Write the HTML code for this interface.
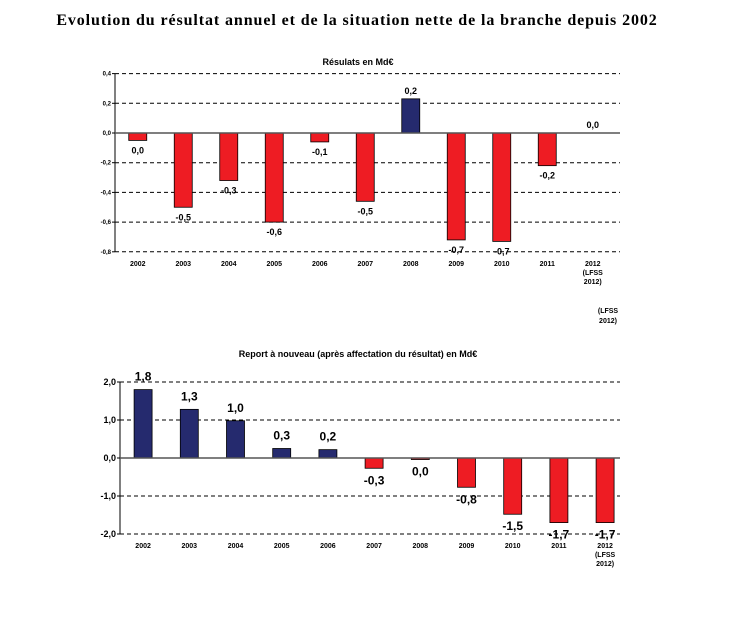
<!DOCTYPE html>
<html><head><meta charset="utf-8">
<style>
body{margin:0;background:#fff;width:741px;height:612px;overflow:hidden}
svg text{font-family:"Liberation Sans",sans-serif}
</style></head>
<body>
<svg id="s" width="741" height="612" xmlns="http://www.w3.org/2000/svg">
<text x="357" y="25" text-anchor="middle" font-weight="bold" font-size="16" letter-spacing="0.9" style="font-family:'Liberation Serif',serif">Evolution du résultat annuel et de la situation nette de la branche depuis 2002</text>
<text x="358" y="65" text-anchor="middle" font-weight="bold" font-size="9">Résulats en Md€</text>
<text x="358" y="357" text-anchor="middle" font-weight="bold" font-size="9">Report à nouveau (après affectation du résultat) en Md€</text>
<text font-weight="bold" font-size="7" text-anchor="middle"><tspan x="608" y="313">(LFSS</tspan><tspan x="608" y="323">2012)</tspan></text>
<g id="c1"></g><g id="c2"></g>
</svg>
<script>
const years=["2002","2003","2004","2005","2006","2007","2008","2009","2010","2011","2012"];
const res=[-0.05,-0.50,-0.32,-0.60,-0.06,-0.46,0.23,-0.72,-0.73,-0.22,0];
const resLabels=["0,0","-0,5","-0,3","-0,6","-0,1","-0,5","0,2","-0,7","-0,7","-0,2","0,0"];
const ticks1=[0.4,0.2,0,-0.2,-0.4,-0.6,-0.8];
const ticks1Labels=["0,4","0,2","0,0","-0,2","-0,4","-0,6","-0,8"];
const ran=[1.8,1.28,0.98,0.25,0.22,-0.27,-0.04,-0.77,-1.48,-1.7,-1.7];
const ranLabels=["1,8","1,3","1,0","0,3","0,2","-0,3","0,0","-0,8","-1,5","-1,7","-1,7"];
const ticks2=[2,1,0,-1,-2];
const ticks2Labels=["2,0","1,0","0,0","-1,0","-2,0"];
const NS="http://www.w3.org/2000/svg";
function mk(p,t,a){const e=document.createElementNS(NS,t);for(const k in a)e.setAttribute(k,a[k]);p.appendChild(e);return e;}
function draw(g,o,vals,labs,ticks,tlabs,pfx){
  const y=v=>o.y0-v*o.k;
  const x=i=>o.x0+o.cw*(i+0.5);
  ticks.forEach((t,i)=>{
    if(t!==0){const l=mk(g,'line',{x1:o.x0,x2:o.x1,y1:y(t),y2:y(t),stroke:'#000','stroke-width':1,'stroke-dasharray':'4,3'});
    }
    const tx=mk(g,'text',{x:o.x0-4,y:y(t)+o.tf/3,'text-anchor':'end','font-size':o.tf,'font-weight':'bold'});tx.textContent=tlabs[i];
    
    mk(g,'line',{x1:o.x0-3,x2:o.x0,y1:y(t),y2:y(t),stroke:'#000'});
  });
  vals.forEach((v,i)=>{
    const b=mk(g,'rect',{x:x(i)-o.bw/2,y:Math.min(y(v),y(0)),width:o.bw,height:Math.abs(y(v)-y(0)),fill:v>=0?'#252a6e':'#ee1c23',stroke:'#000','stroke-width':0.8});
    
    const ly=v>=0?y(v)-o.gap:y(v)+o.lf+4;
    const l=mk(g,'text',{x:x(i),y:ly,'text-anchor':'middle','font-size':o.lf,'font-weight':'bold'});l.textContent=labs[i];
    
    const xl=mk(g,'text',{x:x(i),y:o.xly,'text-anchor':'middle','font-size':7,'font-weight':'bold'});xl.textContent=years[i];
    
    if(i===10){[["(LFSS",9],["2012)",18]].forEach(s=>{const q=mk(g,'text',{x:x(i),y:o.xly+s[1],'text-anchor':'middle','font-size':7,'font-weight':'bold'});q.textContent=s[0];});}
  });
  const ax=mk(g,'line',{x1:o.x0,x2:o.x0,y1:y(ticks[0]),y2:y(ticks[ticks.length-1]),stroke:'#000'});
  
  const zx=mk(g,'line',{x1:o.x0,x2:o.x1,y1:y(0),y2:y(0),stroke:'#555','stroke-width':1.5});
  
}
const o1={x0:115,x1:620,y0:133,k:148.5,cw:45.5,bw:18,tf:6,lf:9,xly:266,gap:5};
draw(document.getElementById('c1'),o1,res,resLabels,ticks1,ticks1Labels,'chart1');
const o2={x0:120,x1:620,y0:458,k:38,cw:46.2,bw:18,tf:9,lf:12,xly:548,gap:9};
draw(document.getElementById('c2'),o2,ran,ranLabels,ticks2,ticks2Labels,'chart2');
</script>
</body></html>
